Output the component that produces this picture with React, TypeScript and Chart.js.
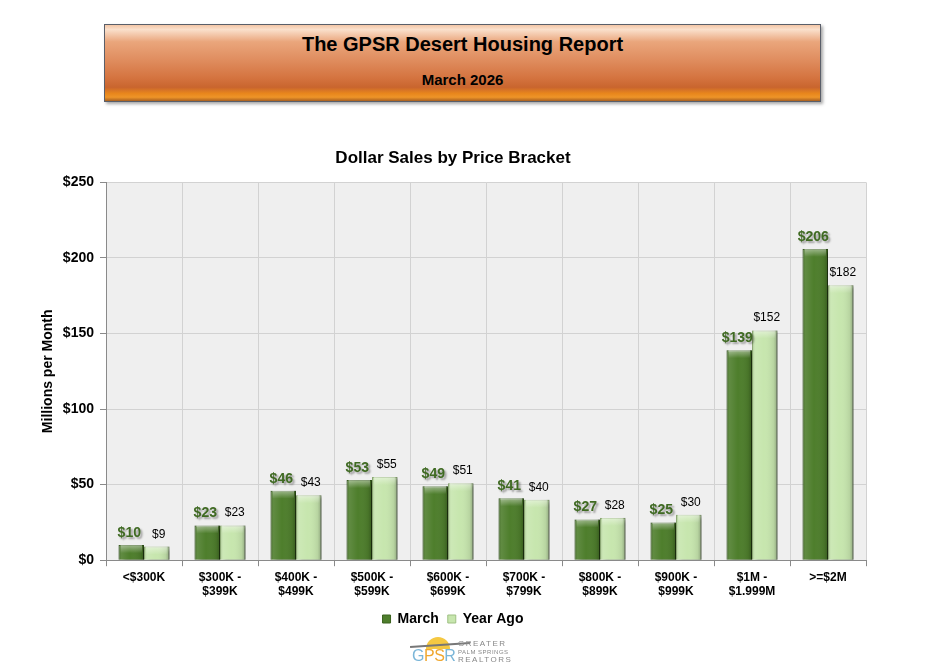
import { useEffect, useRef } from 'react'
import { Chart, registerables, Plugin } from 'chart.js'

Chart.register(...registerables)

const BRACKETS = [
  ['<$300K'],
  ['$300K -', '$399K'],
  ['$400K -', '$499K'],
  ['$500K -', '$599K'],
  ['$600K -', '$699K'],
  ['$700K -', '$799K'],
  ['$800K -', '$899K'],
  ['$900K -', '$999K'],
  ['$1M -', '$1.999M'],
  ['>=$2M'],
]
const MARCH = [10, 23, 46, 53, 49, 41, 27, 25, 139, 206]
const YEAR_AGO = [9, 23, 43, 55, 51, 40, 28, 30, 152, 182]
const Y_TICKS = [0, 50, 100, 150, 200, 250]

const FONT = '"Liberation Sans", Arial, sans-serif'
const DARK_GREEN = '#4e7e2c'
const LIGHT_GREEN = '#c7e6ae'

// grey plot background, bar shadows, bevel shading and value labels
const plotBackground: Plugin<'bar'> = {
  id: 'plotBackground',
  beforeDraw(chart) {
    const { ctx, chartArea: a } = chart
    ctx.save()
    ctx.fillStyle = '#efefef'
    ctx.fillRect(a.left, a.top, a.right - a.left, a.bottom - a.top)
    ctx.restore()
  },
  beforeDatasetsDraw(chart) {
    const { ctx } = chart
    ctx.save()
    ctx.shadowColor = 'rgba(0,0,0,0.45)'
    ctx.shadowOffsetX = 3
    ctx.shadowOffsetY = 2
    ctx.shadowBlur = 3
  },
  afterDatasetsDraw(chart) {
    const { ctx } = chart
    ctx.restore()
    chart.data.datasets.forEach((ds, di) => {
      const meta = chart.getDatasetMeta(di)
      meta.data.forEach((el: any, i) => {
        const w = el.width
        const left = el.x - w / 2
        const top = el.y
        const h = el.base - el.y
        const g = ctx.createLinearGradient(left, 0, left + w, 0)
        g.addColorStop(0, 'rgba(0,0,0,0.18)')
        g.addColorStop(0.12, 'rgba(255,255,255,0.10)')
        g.addColorStop(0.45, 'rgba(255,255,255,0.0)')
        g.addColorStop(0.85, 'rgba(0,0,0,0.08)')
        g.addColorStop(1, 'rgba(0,0,0,0.28)')
        ctx.save()
        ctx.fillStyle = g
        ctx.fillRect(left, top, w, h)
        const tg = ctx.createLinearGradient(0, top, 0, top + 8)
        tg.addColorStop(0, 'rgba(255,255,255,0.45)')
        tg.addColorStop(1, 'rgba(255,255,255,0)')
        ctx.fillStyle = tg
        ctx.fillRect(left + 2, top, w - 4, Math.min(8, h))
        ctx.restore()

        const v = ds.data[i] as number
        ctx.save()
        ctx.textAlign = 'center'
        ctx.textBaseline = 'alphabetic'
        if (di === 0) {
          ctx.font = `bold 14px ${FONT}`
          ctx.shadowColor = 'rgba(0,0,0,0.35)'
          ctx.shadowOffsetX = 2
          ctx.shadowOffsetY = 2
          ctx.shadowBlur = 2
          ctx.fillStyle = '#3f6a22'
          ctx.fillText(`$${v}`, el.x - 2, top - 8)
        } else {
          ctx.font = `12px ${FONT}`
          ctx.fillStyle = '#000'
          ctx.fillText(`$${v}`, el.x + 2, top - 9)
        }
        ctx.restore()
      })
    })
  },
}

export default function App() {
  const canvasRef = useRef<HTMLCanvasElement>(null)

  useEffect(() => {
    if (!canvasRef.current) return
    const chart = new Chart(canvasRef.current, {
      type: 'bar',
      data: {
        labels: BRACKETS,
        datasets: [
          {
            label: 'March',
            data: MARCH,
            backgroundColor: DARK_GREEN,
            borderColor: '#3a621e',
            borderWidth: 1,
            categoryPercentage: 0.67,
            barPercentage: 1,
          },
          {
            label: 'Year Ago',
            data: YEAR_AGO,
            backgroundColor: LIGHT_GREEN,
            borderColor: '#9fc083',
            borderWidth: 1,
            categoryPercentage: 0.67,
            barPercentage: 1,
          },
        ],
      },
      options: {
        animation: false,
        responsive: true,
        maintainAspectRatio: false,
        layout: { padding: { left: 40, right: 69, top: 0, bottom: 4 } },
        plugins: {
          title: {
            display: true,
            text: 'Dollar Sales by Price Bracket',
            color: '#000',
            font: { family: FONT, size: 17, weight: 'bold' },
            padding: { top: 18, bottom: 14 },
          },
          legend: {
            position: 'bottom',
            labels: {
              color: '#000',
              font: { family: FONT, size: 14, weight: 'bold' },
              boxWidth: 8,
              boxHeight: 8,
              padding: 9,
            },
          },
          tooltip: { enabled: false },
        },
        scales: {
          x: {
            grid: { color: '#d2d2d2', tickColor: '#8a8a8a', tickLength: 6 },
            border: { color: '#8a8a8a' },
            ticks: {
              color: '#000',
              font: { family: FONT, size: 12, weight: 'bold' },
              maxRotation: 0,
              autoSkip: false,
              padding: 4,
            },
          },
          y: {
            min: 0,
            max: 250,
            afterBuildTicks: (scale) => {
              scale.ticks = Y_TICKS.map((value) => ({ value }))
            },
            afterFit: (scale) => {
              scale.width = 66
            },
            grid: { color: '#d2d2d2', tickColor: '#8a8a8a', tickLength: 6 },
            border: { color: '#8a8a8a' },
            ticks: {
              color: '#000',
              font: { family: FONT, size: 14, weight: 'bold' },
              padding: 6,
              callback: (v) => `$${v}`,
            },
            title: {
              display: true,
              text: 'Millions per Month',
              color: '#000',
              font: { family: FONT, size: 14, weight: 'bold' },
              padding: { top: 0, bottom: 0 },
            },
          },
        },
      },
      plugins: [plotBackground],
    })
    return () => chart.destroy()
  }, [])

  return (
    <div style={{ position: 'relative', width: 935, height: 670, margin: -8, background: '#fff', fontFamily: FONT, overflow: 'hidden' }}>
      {/* header banner */}
      <div
        style={{
          position: 'absolute',
          left: 104,
          top: 24,
          width: 715,
          height: 76,
          border: '1px solid #5a5f6a',
          boxShadow: '2px 2px 3px rgba(0,0,0,0.35)',
          background:
            'linear-gradient(to bottom, #f3c6a6 0%, #fae0cc 6%, #eaa67c 22%, #e08e60 45%, #d4733f 70%, #c9652e 82%, #e8861c 90%, #ee9428 95%, #a86020 100%)',
          textAlign: 'center',
          color: '#000',
        }}
      >
        <div style={{ fontSize: 20, fontWeight: 'bold', marginTop: 8 }}>The GPSR Desert Housing Report</div>
        <div style={{ fontSize: 15, fontWeight: 'bold', marginTop: 15 }}>March 2026</div>
      </div>

      {/* chart */}
      <div style={{ position: 'absolute', left: 0, top: 130, width: 935, height: 510 }}>
        <canvas ref={canvasRef} />
      </div>

      {/* logo */}
      <div style={{ position: 'absolute', left: 410, top: 634, width: 130, height: 34 }}>
        <div style={{ position: 'absolute', left: 16, top: 3, width: 24, height: 12, borderRadius: '12px 12px 0 0', background: '#f5c842' }} />
        <div style={{ position: 'absolute', left: 0, top: 10, width: 60, height: 2, background: '#777', transform: 'rotate(-4deg)' }} />
        <div style={{ position: 'absolute', left: 2, top: 13, fontSize: 16, lineHeight: '18px', letterSpacing: -0.5 }}>
          <span style={{ color: '#7bb6d8' }}>G</span>
          <span style={{ color: '#f0a830' }}>PS</span>
          <span style={{ color: '#7bb6d8' }}>R</span>
        </div>
        <div style={{ position: 'absolute', left: 48, top: 6, fontSize: 8, lineHeight: '8px', color: '#888', letterSpacing: 1.5 }}>
          GREATER
          <br />
          <span style={{ fontSize: 6, letterSpacing: 0.5 }}>PALM SPRINGS</span>
          <br />
          REALTORS
        </div>
        <div style={{ position: 'absolute', left: 2, top: 31, width: 100, height: 1, background: '#ccc' }} />
      </div>
    </div>
  )
}
